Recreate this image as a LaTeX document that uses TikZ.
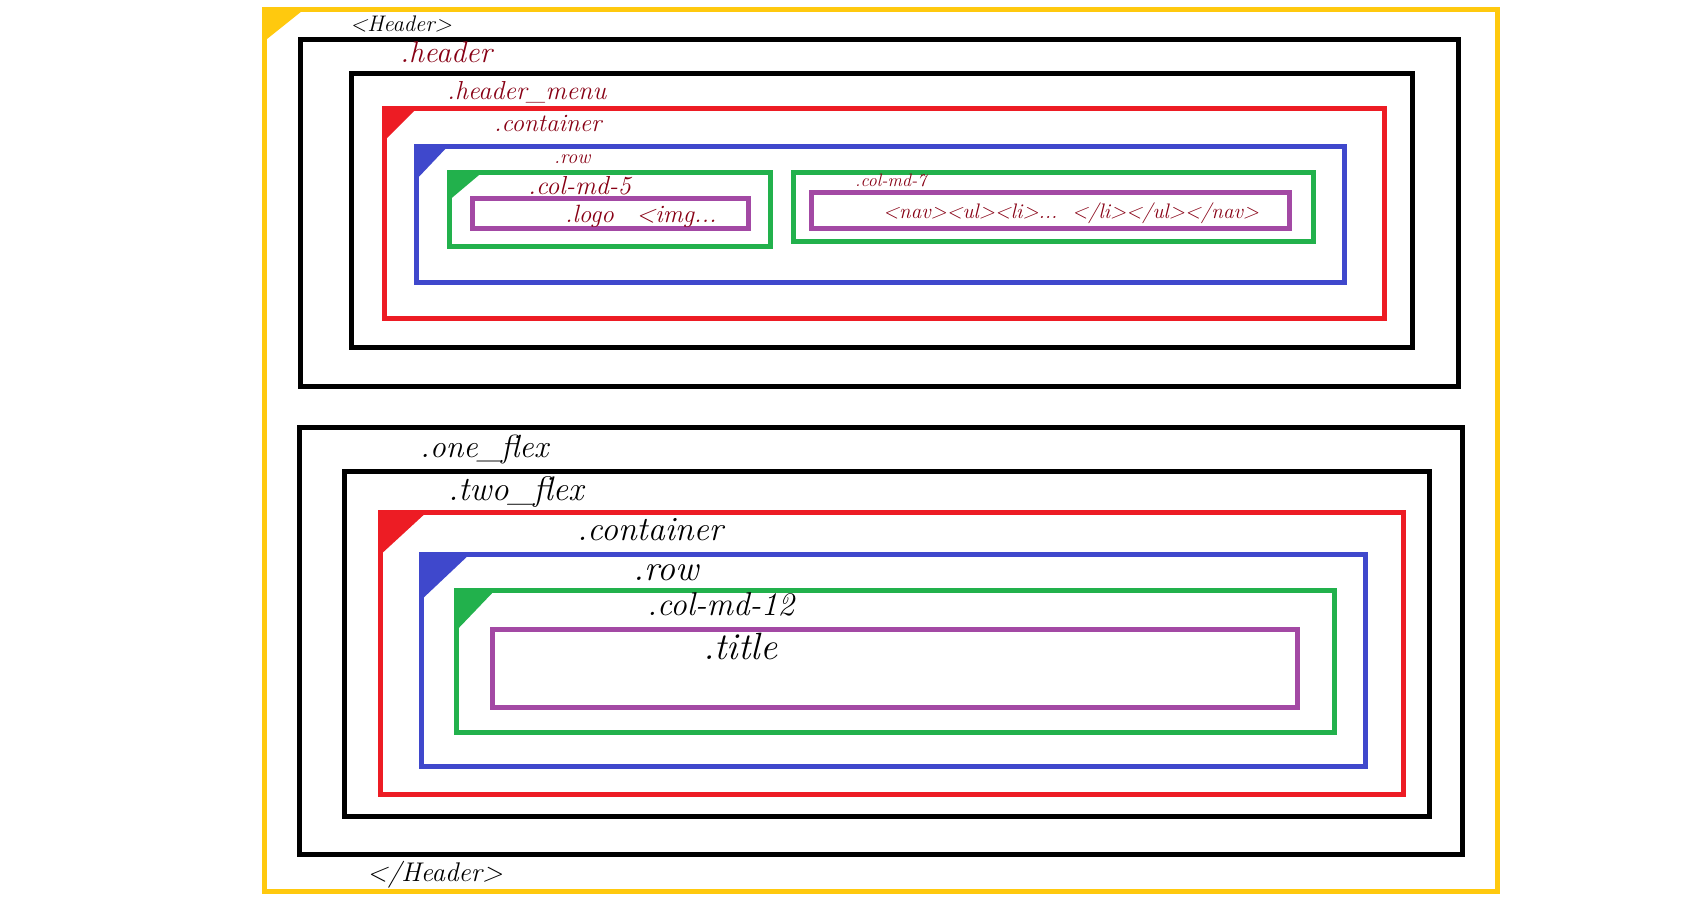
\documentclass[tikz,border=0pt]{standalone}
\usepackage{fontspec}
\usepackage{tikz}
\definecolor{hdrYellow}{HTML}{FFC90E}
\definecolor{boxRed}{HTML}{ED1C24}
\definecolor{boxBlue}{HTML}{3F48CC}
\definecolor{boxGreen}{HTML}{22B14C}
\definecolor{boxPurple}{HTML}{A349A4}
\definecolor{clsRed}{HTML}{880015}
\tikzset{
  wrapbox/.style={draw=hdrYellow, line width=5pt},
  flexbox/.style={draw=black, line width=5pt},
  contbox/.style={draw=boxRed, line width=5pt},
  rowbox/.style={draw=boxBlue, line width=5pt},
  colbox/.style={draw=boxGreen, line width=5pt},
  itembox/.style={draw=boxPurple, line width=5pt},
  lbl/.style={anchor=base west, inner sep=0pt},
  tagtxt/.style={lbl, text=black},
  clstxt/.style={lbl, text=clsRed},
}
\newcommand{\hw}[1]{\fontsize{#1}{#1}\selectfont\itshape}
\newcommand{\cornerflag}[4]{\fill[#1] (#2) ++(-2.5,-2.5) -- ++(#3,0) -- ++(-#3,#4) -- cycle;}

\begin{document}
\begin{tikzpicture}[x=1pt,y=-1pt]
\fill[white] (0,0) rectangle (1692,908);
\useasboundingbox (0,0) rectangle (1692,908);
% outer header frame
\cornerflag{hdrYellow}{264.5,9.5}{45}{36}
\draw[wrapbox] (264.5,9.5) rectangle (1497,891.5);
\node[tagtxt, font=\hw{22.5}] (headTag) at (350,31) {<Header>};
\node[tagtxt, font=\hw{27}] (endTag) at (367,881) {</Header>};

% upper block
\draw[flexbox] (300.5,39.5) rectangle (1458.5,386.5);
\draw[flexbox] (351.5,73.5) rectangle (1412.5,347.5);
\cornerflag{boxRed}{384.5,108.5}{37}{37}
\draw[contbox] (384.5,108.5) rectangle (1384.5,318.5);
\cornerflag{boxBlue}{416.5,146.5}{36}{38}
\draw[rowbox] (416.5,146.5) rectangle (1344.5,282.5);
\cornerflag{boxGreen}{449.5,172.5}{38}{32}
\draw[colbox] (449.5,172.5) rectangle (770.5,246.5);
\draw[itembox] (472.5,198.5) rectangle (748.5,228.5);
\draw[colbox] (793.5,172.5) rectangle (1313.5,241.5);
\draw[itembox] (811.5,192.5) rectangle (1289.5,228.5);
\node[clstxt, font=\hw{30}] (headerCls) at (400,62) {.header};
\node[clstxt, font=\hw{26}] (menuCls) at (447,99) {.header\_menu};
\node[clstxt, font=\hw{25}] (contTop) at (494,131) {.container};
\node[clstxt, font=\hw{20}] (rowTop) at (554,163) {.row};
\node[clstxt, font=\hw{26}] (colFive) at (528,194) {.col-md-5};
\node[clstxt, font=\hw{25}] (logoTxt) at (565,222) {.logo\hspace{0.9em}<img...};
\node[clstxt, font=\hw{18}] (colSeven) at (855,186) {.col-md-7};
\node[clstxt, font=\hw{21}] (navTxt) at (883,218) {<nav><ul><li>...\ \ </li></ul></nav>};

% lower block
\draw[flexbox] (299.5,427.5) rectangle (1462.5,854);
\draw[flexbox] (344.5,471.5) rectangle (1429.5,816.5);
\cornerflag{boxRed}{380.5,512.5}{51}{47}
\draw[contbox] (380.5,512.5) rectangle (1403.5,794.5);
\cornerflag{boxBlue}{421.5,554.5}{53}{50}
\draw[rowbox] (421.5,554.5) rectangle (1365.5,766.5);
\cornerflag{boxGreen}{456.5,590.5}{43}{45}
\draw[colbox] (456.5,590.5) rectangle (1334.5,732.5);
\draw[itembox] (492.5,629.5) rectangle (1297.5,707.5);
\node[tagtxt, font=\hw{32}] (oneFlex) at (420,457) {.one\_flex};
\node[tagtxt, font=\hw{34}] (twoFlex) at (448,500) {.two\_flex};
\node[tagtxt, font=\hw{34}] (contLow) at (577,540) {.container};
\node[tagtxt, font=\hw{36}] (rowLow) at (633,580) {.row};
\node[tagtxt, font=\hw{33}] (colTwelve) at (647,615) {.col-md-12};
\node[tagtxt, font=\hw{38}] (titleTxt) at (703,659) {.title};
\end{tikzpicture}
\end{document}
